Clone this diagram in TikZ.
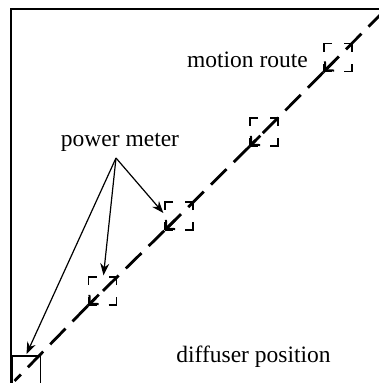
\documentclass[tikz,border=0pt]{standalone}
\usepackage{fontspec}
\setmainfont{Liberation Serif}
\usetikzlibrary{arrows.meta,calc}
\begin{document}
\begin{tikzpicture}[x=1pt,y=-1pt,
  meterbox/.style={draw, line width=1.3pt, minimum size=28pt, inner sep=0pt,
    dash pattern=on 16pt off 12pt, dash phase=8pt},
  solidbox/.style={draw, line width=1.8pt, minimum size=28pt, inner sep=0pt},
  txt/.style={font=\fontsize{23.5}{28}\selectfont, inner sep=0pt, anchor=base},
  route/.style={line width=2.8pt, dash pattern=on 22pt off 10pt},
  routetip/.style={line width=2.8pt,
    -{Straight Barb[length=6pt,width=13pt,line width=2pt]}},
  pointer/.style={line width=1.2pt, -{Stealth[length=12pt,width=9pt]}}]
\useasboundingbox (0,0) rectangle (379,383);
% frame
\coordinate (fr) at (381,9);
\coordinate (fc) at (11,9);
\coordinate (fb) at (11,385);
\draw[line width=1.6pt] (fr) -- (fc) -- (fb);
% boxes
\node[meterbox] (b1) at (338,57.5) {};
\node[meterbox] (b2) at (264,132) {};
\node[meterbox] (b3) at (179,216) {};
\node[meterbox] (b4) at (102.5,291) {};
\node[solidbox] (b5) at (26.5,370) {};
% route
\coordinate (rs) at (384,11);
\coordinate (re) at ($(b5.south west)+(3,-4)$);
\draw[route] (rs) -- (b1.south west);
\draw[route] (b1.south west) -- (b2.south west);
\draw[route] (b2.south west) -- (b3.south west);
\draw[route] (b3.south west) -- (b4.south west);
\draw[route] (b4.south west) -- (re);
\foreach \b in {b1,b2,b3,b4}
  \draw[routetip] ($(\b.south west)+(11,-11)$) -- ($(\b.south west)+(1,-1)$);
% labels
\node[txt] (mr) at (247.5,67) {motion route};
\node[txt] (pm) at (120,146.5) {power meter};
\node[txt] (dp) at (253.5,362) {diffuser position};
% pointers
\coordinate (apex) at (116,158);
\draw[pointer] (apex) -- ($(b3.west)+(-1,-3)$);
\draw[pointer] (apex) -- ($(b4.north)+(1,-1)$);
\draw[pointer] (apex) -- ($(b5.north)+(0,-1)$);
\end{tikzpicture}
\end{document}
